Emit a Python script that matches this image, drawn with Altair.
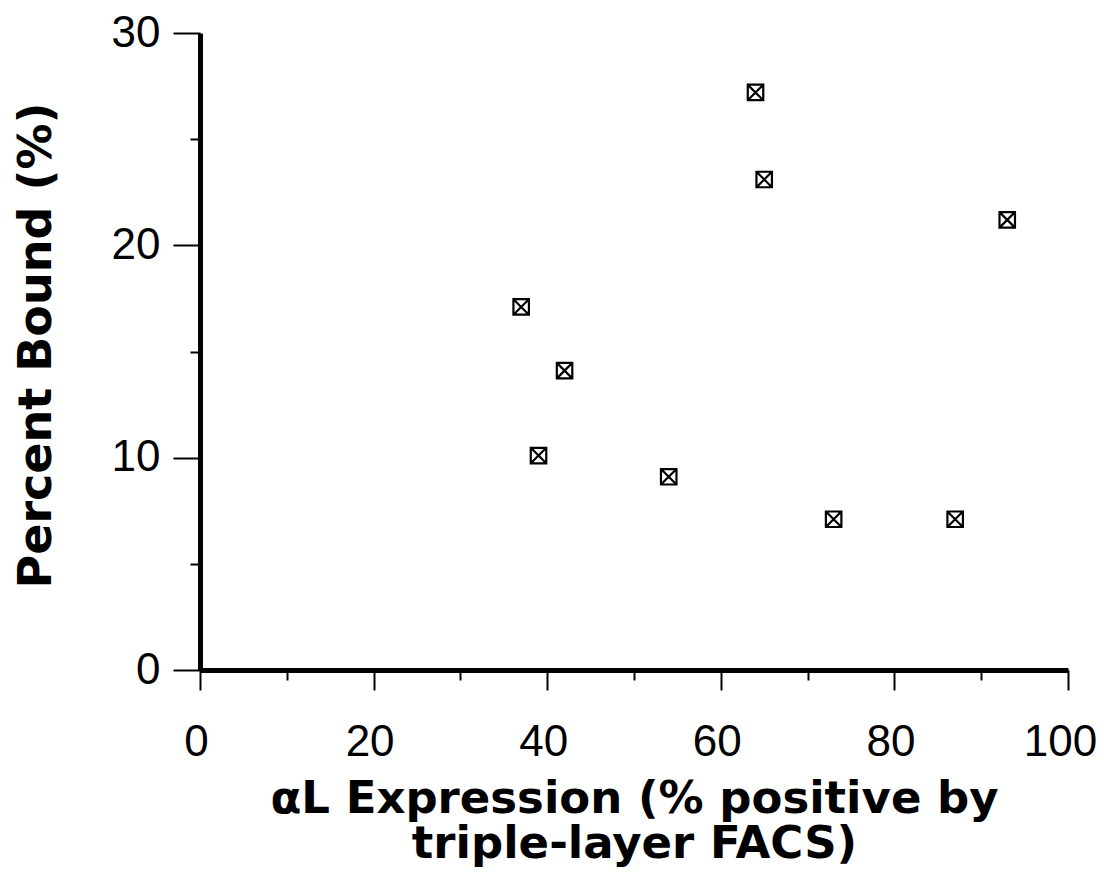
import altair as alt
import pandas as pd

# data
x_vals = [37, 42, 39, 54, 64, 65, 73, 87, 93]
y_vals = [17.1, 14.1, 10.1, 9.1, 27.2, 23.1, 7.1, 7.1, 21.2]
x_ticks = [0, 10, 20, 30, 40, 50, 60, 70, 80, 90, 100]
y_ticks = [0, 5, 10, 15, 20, 25, 30]
x_title = ["\u03b1L Expression (% positive by", "triple-layer FACS)"]
y_title = "Percent Bound (%)"

df = pd.DataFrame({"x": x_vals, "y": y_vals})

marker = "M-1,-1H1V1H-1Z M-1,-1L1,1 M1,-1L-1,1"

label_font = "Liberation Sans"
title_font = "DejaVu Sans"

x_axis = alt.Axis(
    values=x_ticks,
    title=x_title,
    labelExpr="datum.value % 20 === 0 ? datum.label : ''",
    tickSize={"condition": {"test": "datum.value % 20 === 0", "value": 20}, "value": 10},
    labelOffset={"condition": {"test": "datum.value === 100", "value": -8}, "value": -4},
    labelPadding=30,
    labelFlush=False,
    labelOverlap=False,
    labelFont=label_font,
    labelFontSize=44,
    labelColor="black",
    titleFont=title_font,
    titleFontSize=45,
    titleFontWeight="bold",
    titleColor="black",
    titleLineHeight=45,
    titleBaseline="top",
    titleAnchor="middle",
    titleX=434,
    titleY=106,
    grid=False,
    domainWidth=5,
    domainColor="black",
    tickWidth=2,
    tickColor="black",
)

y_axis = alt.Axis(
    values=y_ticks,
    title=y_title,
    labelExpr="datum.value % 10 === 0 ? datum.label : ''",
    tickSize={"condition": {"test": "datum.value % 10 === 0", "value": 27}, "value": 10},
    labelPadding=13,
    labelFlush=False,
    labelOverlap=False,
    labelFont=label_font,
    labelFontSize=44,
    labelColor="black",
    titleFont=title_font,
    titleFontSize=46,
    titleFontWeight="bold",
    titleColor="black",
    titleAngle=270,
    titleBaseline="middle",
    titleAlign="center",
    titleX=-164,
    titleY=312,
    grid=False,
    domainWidth=5,
    domainColor="black",
    tickWidth=2,
    tickColor="black",
)

chart = (
    alt.Chart(df)
    .mark_point(shape=marker, filled=False, size=240, color="black", strokeWidth=2.2, opacity=1)
    .encode(
        x=alt.X("x:Q", scale=alt.Scale(domain=[0, 100], nice=False, zero=False), axis=x_axis),
        y=alt.Y("y:Q", scale=alt.Scale(domain=[0, 30], nice=False, zero=False), axis=y_axis),
    )
    .properties(
        width=868,
        height=637,
        autosize=alt.AutoSizeParams(type="none"),
        padding={"left": 192, "top": 25, "right": 28, "bottom": 198},
        background="white",
    )
    .configure_view(stroke=None)
)

chart.save("out.html", embed_options={"renderer": "svg", "actions": False})
